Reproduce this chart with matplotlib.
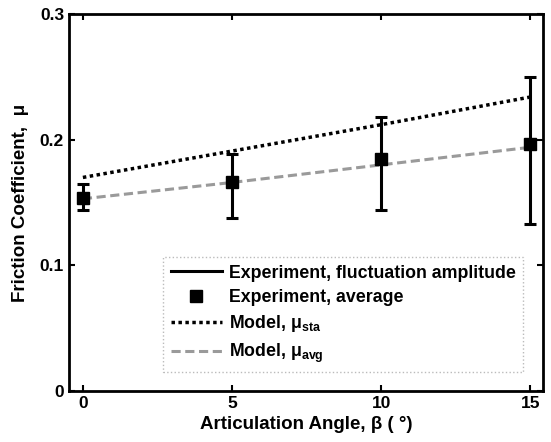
import numpy as np
import matplotlib
matplotlib.use("Agg")
import matplotlib.pyplot as plt
from matplotlib.lines import Line2D

plt.rcParams['font.family'] = ['Liberation Sans', 'DejaVu Sans']
plt.rcParams['font.weight'] = 'bold'
plt.rcParams['mathtext.fontset'] = 'custom'
plt.rcParams['mathtext.rm'] = 'Liberation Sans:bold'
plt.rcParams['mathtext.default'] = 'rm'

angle = [0, 5, 10, 15]
mu_exp_avg = [0.154, 0.166, 0.185, 0.197]
mu_exp_hi = [0.165, 0.189, 0.218, 0.250]
mu_exp_lo = [0.144, 0.138, 0.144, 0.133]
mu_model_sta = [0.170, 0.191, 0.212, 0.234]
mu_model_avg = [0.153, 0.166, 0.180, 0.194]

x = np.array(angle)
avg = np.array(mu_exp_avg)
yerr = [avg - np.array(mu_exp_lo), np.array(mu_exp_hi) - avg]

fig = plt.figure(figsize=(5.51, 4.42), dpi=100)
ax = fig.add_axes([0.125, 0.1154, 0.8605, 0.8526])

ax.errorbar(x, avg, yerr=yerr, fmt='none', ecolor='black', elinewidth=2.2,
            capsize=4, capthick=2.2, zorder=3)
ax.plot(x, mu_model_sta, color='black', linestyle=(0, (1, 1)), linewidth=2.5, zorder=2)
ax.plot(x, mu_model_avg, color='#9a9a9a', linestyle=(0, (3, 1.5)), linewidth=2.2, zorder=2)
ax.plot(x, avg, linestyle='none', marker='s', markersize=9, color='black', zorder=4)

ax.set_xlim(-0.47, 15.43)
ax.set_ylim(0, 0.3)
ax.set_xticks([0, 5, 10, 15])
ax.set_yticks([0, 0.1, 0.2, 0.3])
ax.set_yticklabels(['0', '0.1', '0.2', '0.3'])
ax.tick_params(direction='in', top=True, right=True, length=4, width=1.5, labelsize=12.5)
for s in ax.spines.values():
    s.set_linewidth(2)

ax.set_xlabel('Articulation Angle, β ( °)', fontsize=13.5, fontweight='bold', labelpad=4)
ax.set_ylabel('Friction Coefficient,  μ', fontsize=13.5, fontweight='bold', labelpad=8)

handles = [
    Line2D([], [], color='black', linewidth=2.2),
    Line2D([], [], color='black', linestyle='none', marker='s', markersize=9),
    Line2D([], [], color='black', linestyle=(0, (1, 1)), linewidth=2.5),
    Line2D([], [], color='#9a9a9a', linestyle=(0, (3, 1.5)), linewidth=2.2),
]
labels = ['Experiment, fluctuation amplitude', 'Experiment, average',
          'Model, μ$_{sta}$', 'Model, μ$_{avg}$']
leg = ax.legend(handles, labels, loc='lower right', bbox_to_anchor=(0.962, 0.045),
                fontsize=12.8, frameon=True, fancybox=False, handlelength=2.9,
                handletextpad=0.4, labelspacing=0.42, borderpad=0.4, borderaxespad=0.1)
leg.get_frame().set_edgecolor('#aaaaaa')
leg.get_frame().set_linestyle(':')
leg.get_frame().set_linewidth(1)

fig.savefig('out.png', dpi=100)
